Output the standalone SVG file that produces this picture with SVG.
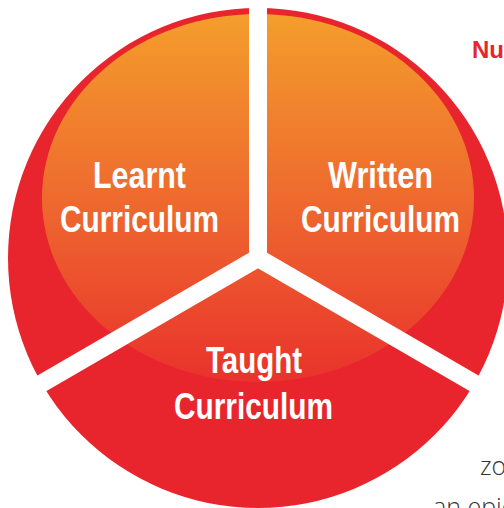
<svg xmlns="http://www.w3.org/2000/svg" width="504" height="508" viewBox="0 0 504 508">
  <defs>
    <linearGradient id="innerGrad" x1="0" y1="14" x2="0" y2="382" gradientUnits="userSpaceOnUse">
      <stop offset="0" stop-color="#F49E2C"/>
      <stop offset="0.5" stop-color="#EE6A2E"/>
      <stop offset="1" stop-color="#E9322C"/>
    </linearGradient>
    <style>
      .label { font-family: "Liberation Sans", Arial, sans-serif; font-weight: bold; font-size: 36px; fill: #FFFFFF; text-anchor: middle; }
      .spoke { fill: none; stroke: #FFFFFF; stroke-width: 18; stroke-linejoin: miter; stroke-miterlimit: 10; }
      .page { font-family: "Open Sans", "Liberation Sans", sans-serif; font-weight: 300; font-size: 25px; fill: #333333; }
    </style>
  </defs>
  <rect width="504" height="508" fill="#FFFFFF"/>
  <g id="wheel">
    <circle cx="258" cy="258" r="250" fill="#E8252D"/>
    <ellipse cx="258" cy="198" rx="216" ry="184" fill="url(#innerGrad)"/>
  </g>
  <g id="connectors">
    <path class="spoke" d="M258 0 L258 258"/>
    <path class="spoke" d="M20 396 L258 258 L496 396"/>
  </g>
  <g id="learnt">
    <text class="label" x="139.5" y="188" textLength="93" lengthAdjust="spacingAndGlyphs">Learnt</text>
    <text class="label" x="139.5" y="232" textLength="159" lengthAdjust="spacingAndGlyphs">Curriculum</text>
  </g>
  <g id="written">
    <text class="label" x="380.5" y="188" textLength="105" lengthAdjust="spacingAndGlyphs">Written</text>
    <text class="label" x="380.5" y="232" textLength="159" lengthAdjust="spacingAndGlyphs">Curriculum</text>
  </g>
  <g id="taught">
    <text class="label" x="254" y="373" textLength="96" lengthAdjust="spacingAndGlyphs">Taught</text>
    <text class="label" x="253.5" y="419" textLength="159" lengthAdjust="spacingAndGlyphs">Curriculum</text>
  </g>
  <g id="page-text">
    <text x="472" y="58" font-family="Liberation Sans, Arial, sans-serif" font-weight="bold" font-size="24" fill="#E8252D">Nu</text>
    <text class="page" x="480" y="475">zo</text>
    <text class="page" x="433" y="516">an epic</text>
  </g>
</svg>
